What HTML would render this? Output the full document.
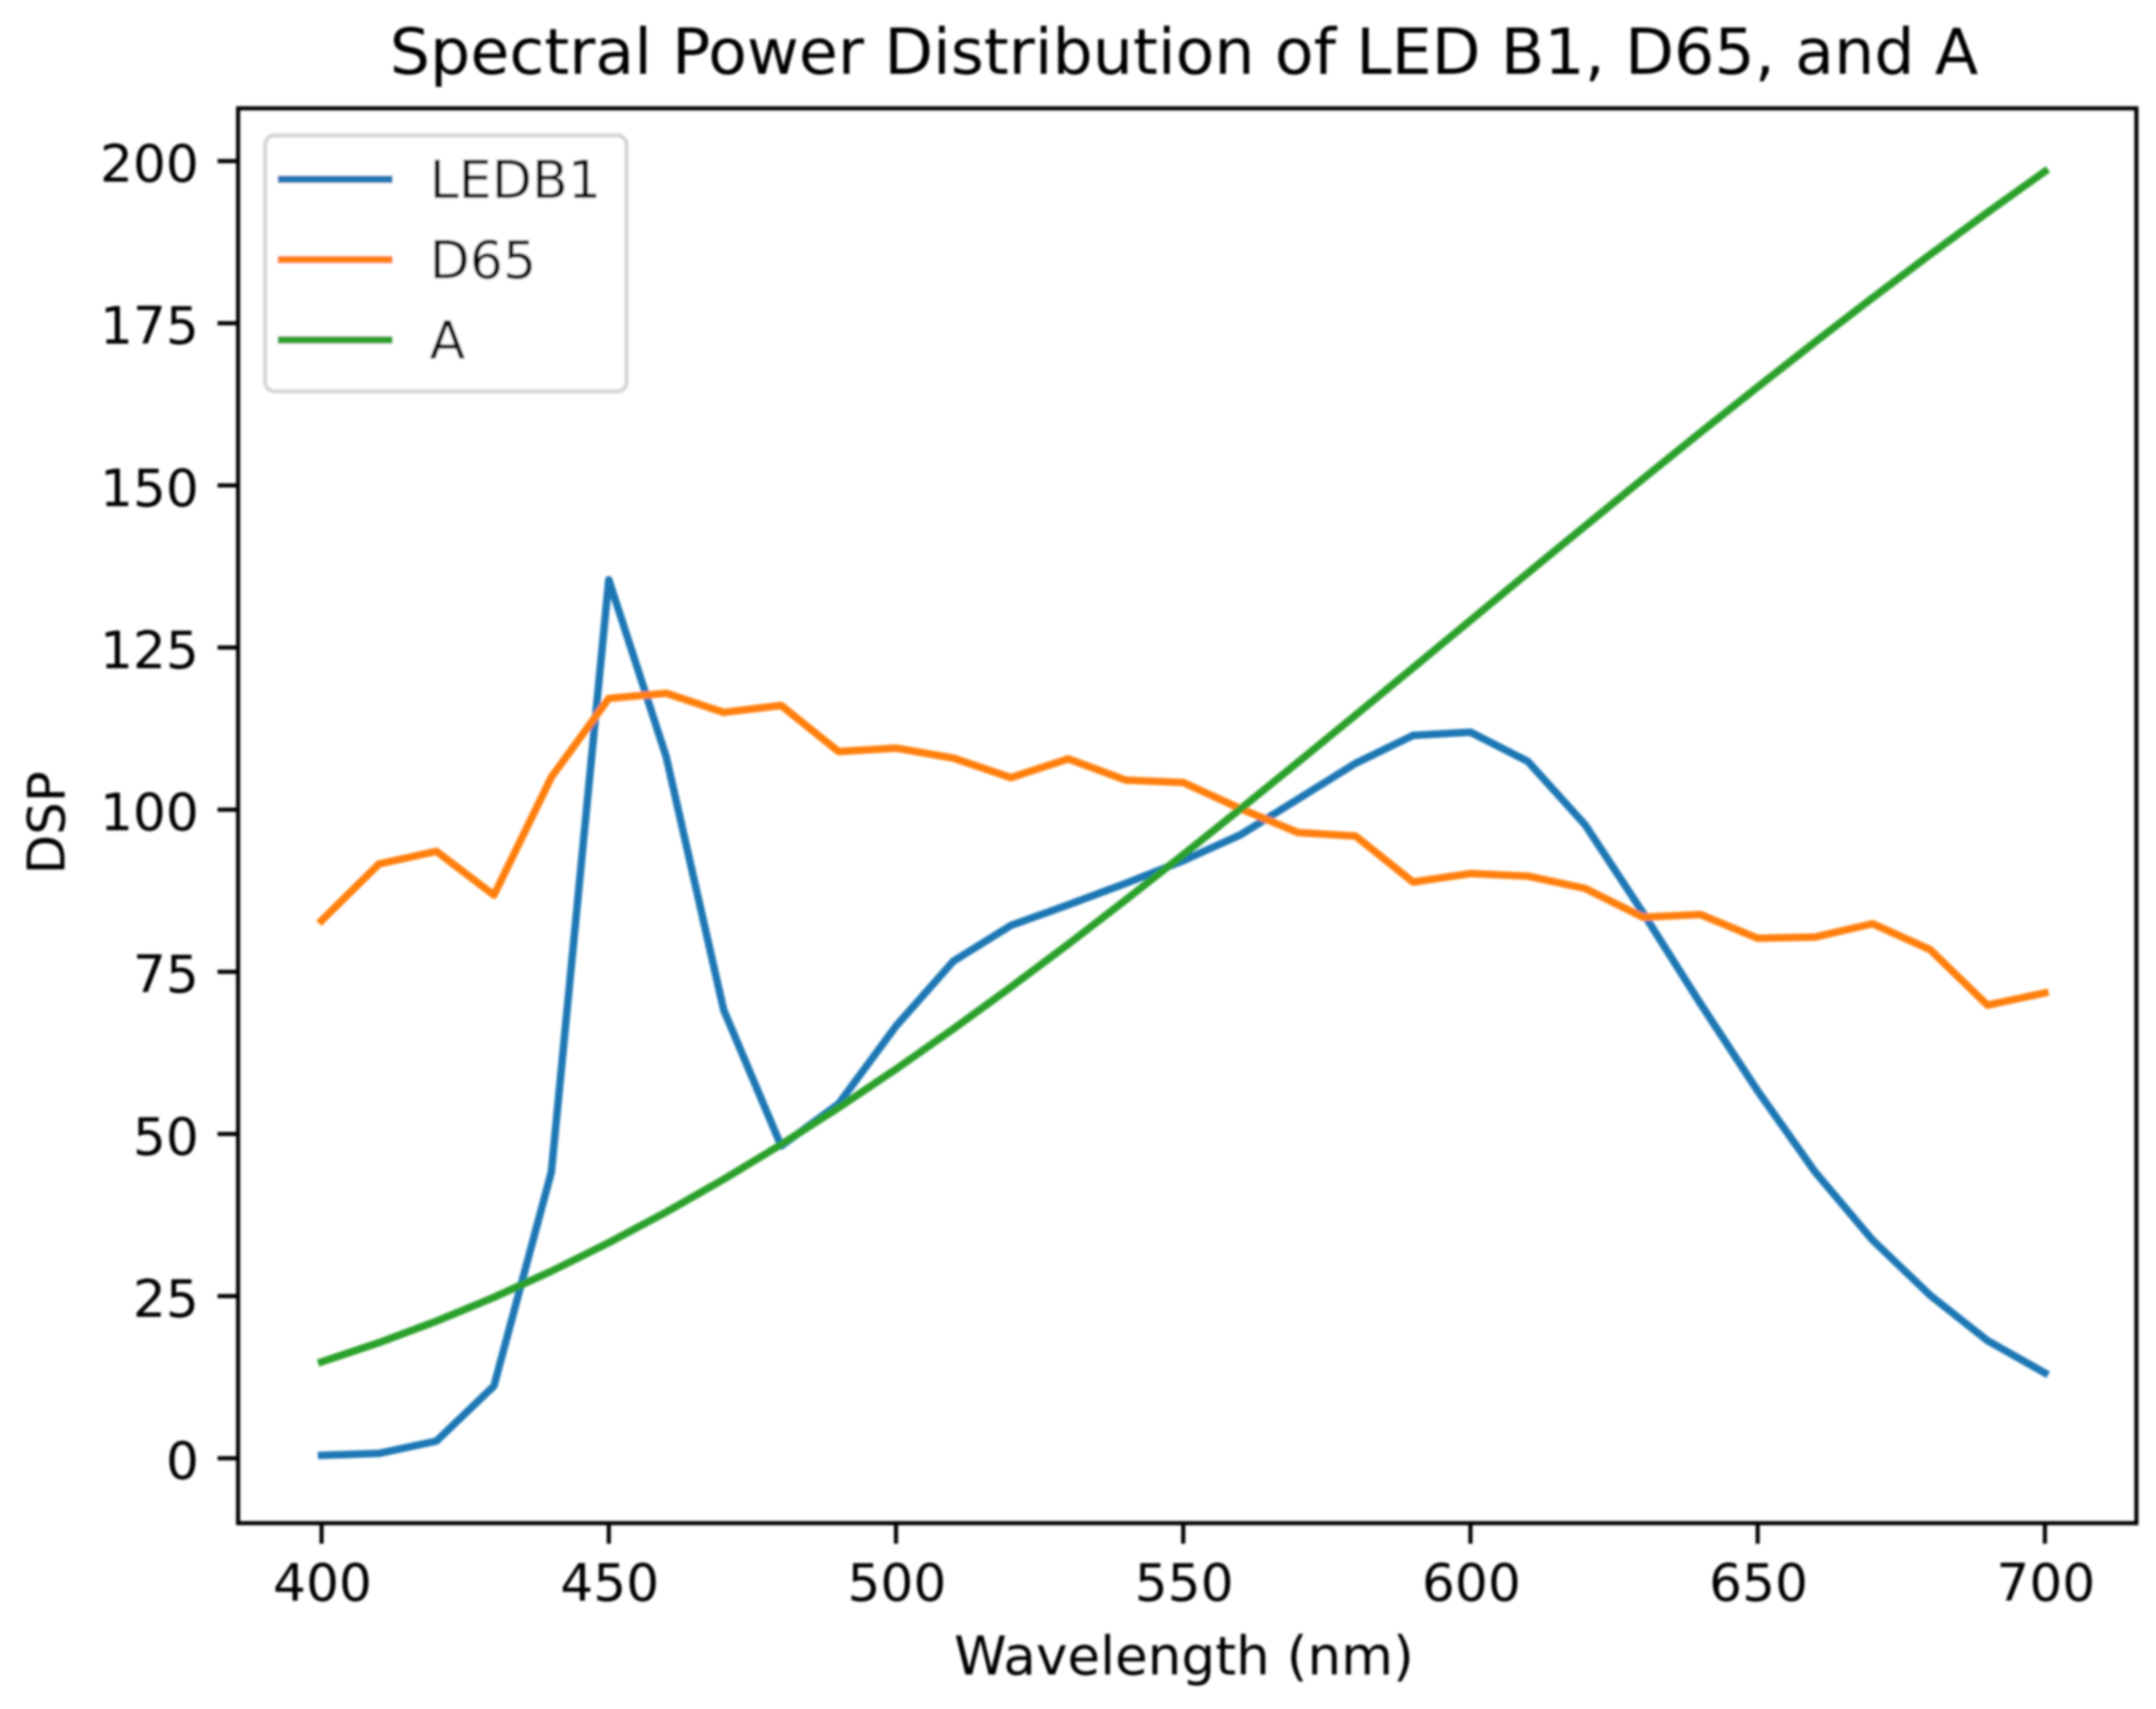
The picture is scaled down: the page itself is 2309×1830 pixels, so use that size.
<!DOCTYPE html>
<html>
<head>
<meta charset="utf-8">
<title>Spectral Power Distribution of LED B1, D65, and A</title>
<style>
html,body{margin:0;padding:0;background:#fff;width:2309px;height:1830px;overflow:hidden}
svg{display:block;font-family:"DejaVu Sans","Liberation Sans",sans-serif;fill:#000}
</style>
</head>
<body>
<svg id="chart" xmlns="http://www.w3.org/2000/svg" width="2309" height="1830" viewBox="0 0 2309 1830">
  <defs><filter id="soft" x="-2%" y="-2%" width="104%" height="104%"><feGaussianBlur stdDeviation="1.3"/></filter></defs>
  <rect width="2309" height="1830" fill="#fff"/>
  <g id="root" filter="url(#soft)">
    <text x="1268" y="79" font-size="68" text-anchor="middle">Spectral Power Distribution of LED B1, D65, and A</text>
    <text x="1268" y="1793" font-size="57" text-anchor="middle">Wavelength (nm)</text>
    <text transform="translate(69,881) rotate(-90)" font-size="55" text-anchor="middle">DSP</text>
    <g id="ticks"></g>
    <g id="series"></g>
    <rect x="255" y="116" width="2033" height="1515" fill="none" stroke="#000" stroke-width="4.4"/>
    <g id="legend">
      <rect x="284" y="145" width="387" height="274" rx="10" fill="#fff" fill-opacity="0.8" stroke="#d5d5d5" stroke-width="4.4"/>
      <g id="legend-items"></g>
    </g>
  </g>
</svg>
<script>
var wavelengths = [400,410,420,430,440,450,460,470,480,490,500,510,520,530,540,550,560,570,580,590,600,610,620,630,640,650,660,670,680,690,700];
var ledB1 = [0.3,0.6,2.5,11,44,135.3,108,69,48,54.5,66.5,76.5,82,85.2,88.5,92,96,101.5,107,111.3,111.8,107.3,97.5,84,70,56.5,44,33.5,25,18,13];
var d65 = [82.75,91.49,93.43,86.68,104.86,117.01,117.81,114.86,115.92,108.81,109.35,107.8,104.79,107.69,104.41,104.05,100,96.33,95.79,88.69,90.01,89.6,87.7,83.29,83.7,80.03,80.21,82.28,78.28,69.72,71.61];
var illuminantA = [14.71,17.68,21,24.67,28.7,33.09,37.81,42.87,48.24,53.91,59.86,66.06,72.5,79.13,85.95,92.91,100,107.18,114.44,121.73,129.04,136.35,143.62,150.84,157.98,165.03,171.96,178.77,185.43,191.93,198.26];
var xTicks = [400,450,500,550,600,650,700];
var yTicks = [0,25,50,75,100,125,150,175,200];
var seriesNames = ["LEDB1","D65","A"];
var seriesColors = ["#1f77b4","#ff7f0e","#2ca02c"];
var seriesValues = [ledB1,d65,illuminantA];

var NS = "http://www.w3.org/2000/svg";
function xScale(v){ return 344.4 + (v - 400) * 6.152; }
function yScale(v){ return 1560.5 - v * 6.945; }
function make(tag, attrs, parent){
  var el = document.createElementNS(NS, tag);
  for (var k in attrs) el.setAttribute(k, attrs[k]);
  parent.appendChild(el);
  return el;
}
var ticksG = document.getElementById("ticks");
xTicks.forEach(function(t){
  var x = xScale(t);
  var mark = make("line", {x1:x, x2:x, y1:1631, y2:1653, stroke:"#000", "stroke-width":4.4}, ticksG);
  
  
  var label = make("text", {x:x + 1, y:1714, "font-size":55.5, "text-anchor":"middle"}, ticksG);
  
  
  label.textContent = t;
});
yTicks.forEach(function(t){
  var y = yScale(t) + 1;
  var mark = make("line", {x1:233, x2:255, y1:y, y2:y, stroke:"#000", "stroke-width":4.4}, ticksG);
  
  
  var label = make("text", {x:213, y:y + 22, "font-size":55.5, "text-anchor":"end"}, ticksG);
  
  
  label.textContent = t;
});
var seriesG = document.getElementById("series");
seriesValues.forEach(function(vals, i){
  var pts = vals.map(function(v, j){ return xScale(wavelengths[j]).toFixed(1) + "," + yScale(v).toFixed(1); }).join(" ");
  var line = make("polyline", {points:pts, fill:"none", stroke:seriesColors[i], "stroke-width":8, "stroke-linejoin":"round", "stroke-linecap":"square"}, seriesG);
  
  
});
var legendG = document.getElementById("legend-items");
seriesNames.forEach(function(name, i){
  var y = 192 + i * 86;
  var swatch = make("line", {x1:297.5, x2:420.5, y1:y, y2:y, stroke:seriesColors[i], "stroke-width":8}, legendG);
  
  
  var label = make("text", {x:460, y:y + 20, "font-size":56, fill:"#000"}, legendG);
  
  
  label.textContent = name;
});
</script>
</body>
</html>
